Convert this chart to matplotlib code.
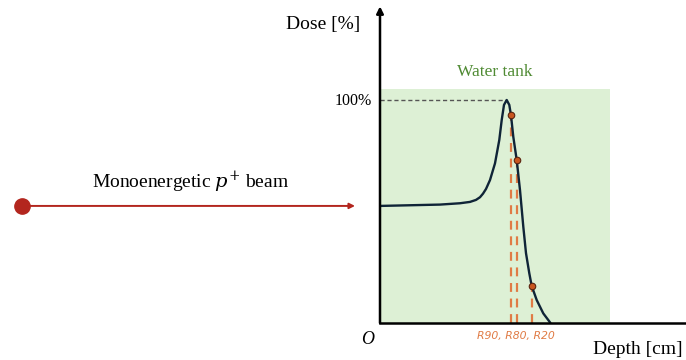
import matplotlib.pyplot as plt

plt.rcParams["mathtext.fontset"] = "dejavuserif"

# depth-dose curve (depth in cm, dose in %)
depth = [0, 4, 6, 8, 9, 9.6, 10, 10.3, 10.6, 11, 11.5, 11.93, 12.17, 12.4,
         12.67, 12.93, 13.1, 13.33, 13.67, 14.0, 14.33, 14.6, 14.93, 15.17,
         15.67, 16.33, 17.0]
dose = [52.5, 52.9, 53.1, 53.7, 54.3, 55.2, 56.4, 58.0, 60.1, 64.1, 71.6,
        82.1, 91.0, 97.8, 100, 97.8, 93.1, 83.5, 73.1, 59.6, 43.2, 31.3,
        22.3, 16.6, 10.3, 4.3, 0.3]

# R90, R80, R20 markers
r_depth = [13.1, 13.67, 15.17]
r_dose = [93.1, 73.1, 16.6]

peak_depth = 12.67
tank_depth = 23.0
tank_top = 105

serif = ["Liberation Serif", "DejaVu Serif"]

fig = plt.figure(figsize=(6.86, 3.6), dpi=100)

# axes for the dose plot: origin at pixel (380, 323)
ax = fig.add_axes([380 / 686, 37 / 360, 306 / 686, 323 / 360])
ax.set_xlim(0, 30.6)
ax.set_ylim(0, 323 / 2.23)
ax.axis("off")

# water tank
ax.fill_between([0, tank_depth], 0, tank_top, color="#ddf0d5", lw=0, zorder=0)
ax.text(tank_depth / 2, tank_top + 7.5, "Water tank", color="#4f8a33",
        family=serif, fontsize=12.5, ha="center", va="center")

# 100% reference line
ax.plot([0, peak_depth], [100, 100], ls=(0, (3, 2)), color="#555555", lw=1)
ax.text(-0.8, 99.5, "100%", family=serif, fontsize=11.5, ha="right", va="center")

# R lines
for x, y in zip(r_depth, r_dose):
    ax.plot([x, x], [0, y], ls=(0, (4, 3)), color="#e07b45", lw=1.6, zorder=2)
ax.plot(depth, dose, color="#0f2437", lw=1.7, zorder=3)
ax.scatter(r_depth, r_dose, s=22, color="#c8561f", edgecolor="#5a2410",
           lw=0.8, zorder=4)
ax.text(13.6, -6, "R90, R80, R20", color="#e07b45", fontsize=7.8,
        style="italic", ha="center", va="center")

# axes with arrow
ax.annotate("", xy=(0, 142), xytext=(0, 0),
            arrowprops=dict(arrowstyle="-|>", color="black", lw=1.8,
                            mutation_scale=10, shrinkA=0, shrinkB=0))
ax.plot([0, 30.6], [0, 0], color="black", lw=1.8, clip_on=False, zorder=5)

ax.text(-2.0, 134, "Dose [%]", family=serif, fontsize=14, ha="right", va="center")
ax.text(30.3, -12, "Depth [cm]", family=serif, fontsize=14, ha="right", va="center")
ax.text(-1.2, -7.5, "O", family=serif, fontsize=13, style="italic",
        ha="center", va="center")

# incoming beam
ax.annotate("", xy=(-2.5, 52.5), xytext=(-35.8, 52.5),
            arrowprops=dict(arrowstyle="-|>", color="#b3261e", lw=1.4,
                            mutation_scale=8, shrinkA=0, shrinkB=0),
            annotation_clip=False)
ax.plot([-35.8], [52.5], "o", ms=11, color="#b3261e", clip_on=False)
ax.text(-19, 63, "Monoenergetic $p^{+}$ beam", family=serif, fontsize=14,
        ha="center", va="center")

fig.savefig("out.png", dpi=100)
